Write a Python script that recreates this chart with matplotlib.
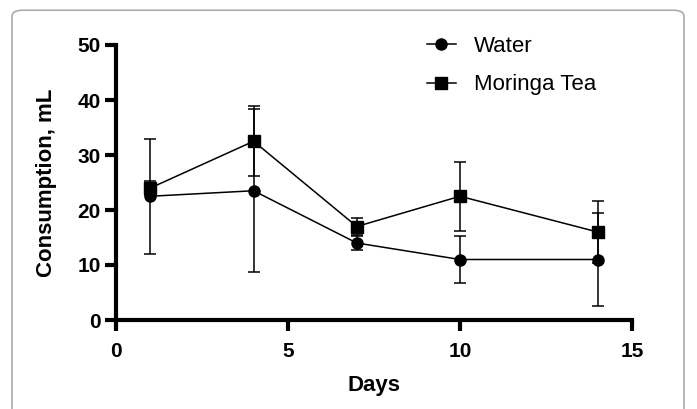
import matplotlib.pyplot as plt
from matplotlib.patches import FancyBboxPatch
from matplotlib.lines import Line2D

# Данные
days = [1, 4, 7, 10, 14]
water = [22.5, 23.5, 14, 11, 11]
water_err = [10.5, 14.8, 1.3, 4.2, 8.5]
tea = [24, 32.5, 17, 22.5, 16]
tea_err = [1.3, 6.4, 1.5, 6.3, 5.6]
series_labels = ['Water', 'Moringa Tea']

plt.rcParams['font.family'] = ['Liberation Sans', 'DejaVu Sans']

fig = plt.figure(figsize=(6.97, 4.09), dpi=100)

# Рамка вокруг рисунка
frame = FancyBboxPatch((12 / 697, -0.05), 672 / 697, 1.025,
                       boxstyle='round,pad=0,rounding_size=0.015',
                       transform=fig.transFigure, facecolor='none',
                       edgecolor='#aaaaaa', linewidth=1.2)
fig.patches.append(frame)

ax = fig.add_axes([116 / 697, 1 - 320 / 409, 516 / 697, 275 / 409])

style = dict(color='black', markersize=8, linewidth=1.1, elinewidth=1.1,
             capsize=4, capthick=1.1, clip_on=False)
ax.errorbar(days, water, yerr=water_err, marker='o', **style)
ax.errorbar(days, tea, yerr=tea_err, marker='s', **style)

ax.set_xlim(0, 15)
ax.set_ylim(0, 50)
ax.set_xticks([0, 5, 10, 15])
ax.set_yticks([0, 10, 20, 30, 40, 50])

for side in ['top', 'right']:
    ax.spines[side].set_visible(False)
for side in ['left', 'bottom']:
    ax.spines[side].set_linewidth(3)
    ax.spines[side].set_capstyle('projecting')

ax.tick_params(width=3, length=8, labelsize=15)
ax.tick_params(axis='x', pad=8)
ax.tick_params(axis='y', pad=3)
for lbl in ax.get_xticklabels() + ax.get_yticklabels():
    lbl.set_fontweight('bold')

ax.set_xlabel('Days', fontsize=16, fontweight='bold', labelpad=10)
ax.set_ylabel('Consumption, mL', fontsize=16, fontweight='bold', labelpad=15)

# Легенда без планок погрешностей
handles = [Line2D([], [], color='black', marker=m, markersize=8, linewidth=1.1)
           for m in ['o', 's']]
fig.legend(handles, series_labels, loc='upper left',
           bbox_to_anchor=(427 / 697, 1 - 36 / 409), frameon=False,
           fontsize=16, handlelength=1.3, handletextpad=0.8,
           labelspacing=0.78, borderpad=0, borderaxespad=0)

plt.savefig('out.png', dpi=100)
